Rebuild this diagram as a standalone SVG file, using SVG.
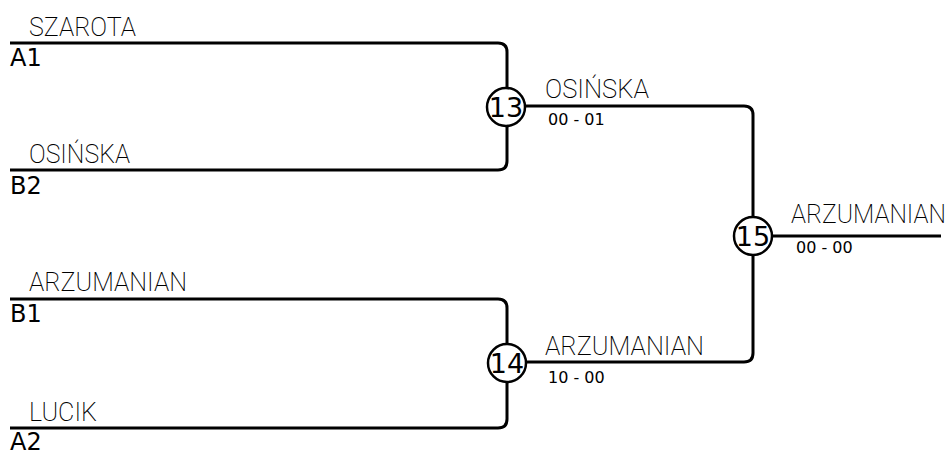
<svg xmlns="http://www.w3.org/2000/svg" width="951" height="452" viewBox="0 0 951 452">
<style>
.ln{fill:none;stroke:#000;stroke-width:3}
.nm{font-family:Roboto,"Liberation Sans",sans-serif;font-weight:200;font-size:26px;fill:#000}
.sd{font-family:"DejaVu Sans",sans-serif;font-size:24px;fill:#000}
.sc{font-family:"DejaVu Sans",sans-serif;font-size:16px;fill:#000}
.ci{fill:#fff;stroke:#000;stroke-width:2.5}
.cn{font-family:"DejaVu Sans",sans-serif;font-size:27px;fill:#000;text-anchor:middle}
</style>
<rect width="951" height="452" fill="#fff"/>
<g id="connectors">
<path class="ln" d="M10,43 H498 Q507,43 507,52 V161 Q507,170 498,170 H10"/>
<path class="ln" d="M10,299 H498 Q507,299 507,308 V419 Q507,428 498,428 H10"/>
<path class="ln" d="M507,106 H744 Q753,106 753,115 V353 Q753,362 744,362 H507"/>
<path class="ln" d="M753,236 H941"/>
</g>
<g id="p1"><text class="nm" x="29" y="36" textLength="107" lengthAdjust="spacingAndGlyphs">SZAROTA</text><text class="sd" x="10" y="66">A1</text></g>
<g id="p2"><text class="nm" x="29" y="163" textLength="101" lengthAdjust="spacingAndGlyphs">OSIŃSKA</text><text class="sd" x="10" y="194">B2</text></g>
<g id="p3"><text class="nm" x="29" y="291" textLength="158" lengthAdjust="spacingAndGlyphs">ARZUMANIAN</text><text class="sd" x="10" y="322">B1</text></g>
<g id="p4"><text class="nm" x="29" y="421" textLength="68" lengthAdjust="spacingAndGlyphs">LUCIK</text><text class="sd" x="10" y="450">A2</text></g>
<g id="m13"><circle class="ci" cx="506" cy="107" r="19"/><text class="cn" x="506" y="117">13</text>
<text class="nm" x="545" y="98" textLength="104" lengthAdjust="spacingAndGlyphs">OSIŃSKA</text><text class="sc" x="548" y="125">00 - 01</text></g>
<g id="m14"><circle class="ci" cx="507" cy="363" r="19"/><text class="cn" x="507" y="373">14</text>
<text class="nm" x="545" y="355" textLength="159" lengthAdjust="spacingAndGlyphs">ARZUMANIAN</text><text class="sc" x="548" y="383">10 - 00</text></g>
<g id="m15"><circle class="ci" cx="753" cy="236" r="19"/><text class="cn" x="753" y="246">15</text>
<text class="nm" x="791" y="223" textLength="155" lengthAdjust="spacingAndGlyphs">ARZUMANIAN</text><text class="sc" x="796" y="253">00 - 00</text></g>
</svg>
